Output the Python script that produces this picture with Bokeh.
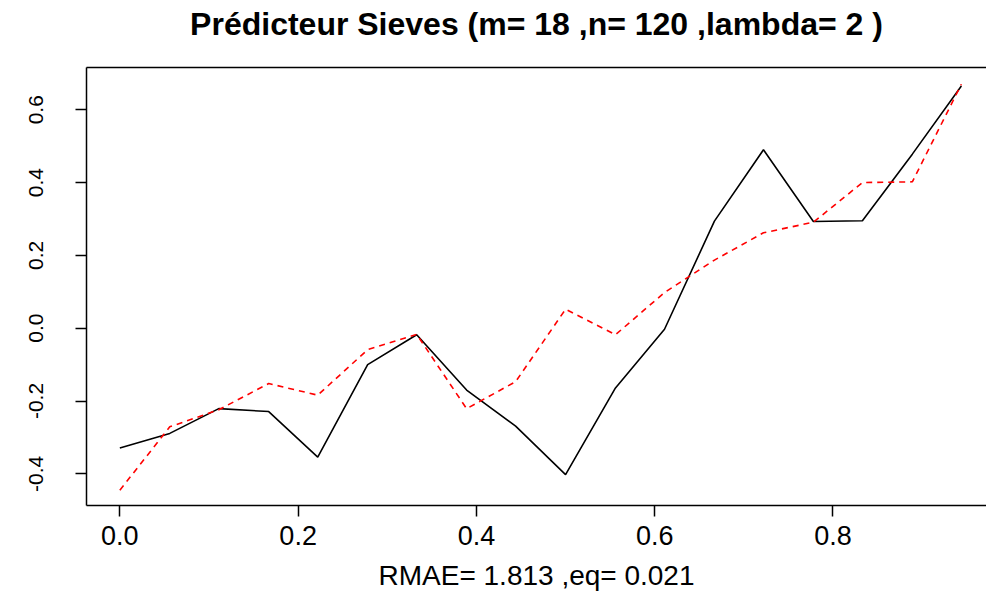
from bokeh.plotting import figure
from bokeh.models import (Range1d, FixedTicker, PrintfTickFormatter, ColumnDataSource,
                          LinearAxis, CustomJSTickFormatter)
from bokeh.embed import file_html
from bokeh.resources import INLINE

# Evaluation grid (m = 18 points on [0, 1))
grid = [0.000, 0.056, 0.111, 0.167, 0.222, 0.278, 0.333, 0.389, 0.444,
        0.500, 0.556, 0.611, 0.667, 0.722, 0.778, 0.833, 0.889, 0.944]

# Observed series (black, solid)
observed = [-0.329, -0.289, -0.221, -0.229, -0.354, -0.100, -0.018, -0.170, -0.269,
            -0.402, -0.164, -0.003, 0.294, 0.490, 0.293, 0.295, 0.478, 0.665]

# Sieve predictor (red, dashed)
predicted = [-0.445, -0.271, -0.224, -0.152, -0.184, -0.059, -0.017, -0.221, -0.147,
             0.052, -0.018, 0.098, 0.187, 0.262, 0.291, 0.400, 0.402, 0.670]

x_ticks = [0.0, 0.2, 0.4, 0.6, 0.8]
y_ticks = [-0.4, -0.2, 0.0, 0.2, 0.4, 0.6]

title_text = "Prédicteur Sieves (m= 18 ,n= 120 ,lambda= 2 )"
x_label = "RMAE= 1.813 ,eq= 0.021"

FONT = "Liberation Sans"

src = ColumnDataSource(data=dict(x=grid, obs=observed, pred=predicted))

p = figure(width=986, height=598, output_backend="svg", toolbar_location=None,
           x_range=Range1d(-0.0374, 0.9722), y_range=Range1d(-0.487, 0.716),
           min_border_left=86, min_border_right=0, min_border_top=67, min_border_bottom=93)

p.background_fill_color = "white"
p.border_fill_color = "white"
p.outline_line_color = None
p.grid.visible = False

# Title
p.title.text = title_text
p.title.align = "center"
p.title.text_font = FONT
p.title.text_font_style = "bold"
p.title.text_font_size = "32px"
p.title.text_color = "black"
p.title.standoff = 0

# Axes
for ax in (p.xaxis[0], p.yaxis[0]):
    ax.axis_line_color = "black"
    ax.axis_line_width = 1.5
    ax.major_tick_line_color = "black"
    ax.major_tick_line_width = 1.5
    ax.major_tick_out = 11
    ax.major_tick_in = 0
    ax.minor_tick_line_color = None
    ax.major_label_text_font = FONT
    ax.major_label_text_color = "black"
    ax.formatter = PrintfTickFormatter(format="%.1f")

p.xaxis.ticker = FixedTicker(ticks=x_ticks)
p.yaxis.ticker = FixedTicker(ticks=y_ticks)
p.xaxis.major_label_text_font_size = "27px"
p.xaxis.major_label_standoff = 9
p.yaxis.major_label_text_font_size = "21px"
p.yaxis.major_label_orientation = "vertical"
p.yaxis.major_label_standoff = 32

p.xaxis.axis_label = x_label
p.xaxis.axis_label_text_font = FONT
p.xaxis.axis_label_text_font_size = "28px"
p.xaxis.axis_label_text_font_style = "normal"
p.xaxis.axis_label_text_color = "black"
p.xaxis.axis_label_standoff = 12

# Top side of the box: a bare axis line; its hidden tick band leaves a gap under the title
top = LinearAxis(ticker=FixedTicker(ticks=[0.4]), axis_line_color="black", axis_line_width=1.5,
                 major_tick_out=26, major_tick_in=0, major_tick_line_color=None,
                 minor_tick_line_color=None, major_label_standoff=0,
                 major_label_text_font_size="1px",
                 formatter=CustomJSTickFormatter(code="return ''"))
p.add_layout(top, "above")

# Series
p.line("x", "obs", source=src, line_color="black", line_width=1.6)
p.line("x", "pred", source=src, line_color="#ff0000", line_width=1.6, line_dash="6 5")

open("out.html", "w").write(file_html(p, INLINE))
